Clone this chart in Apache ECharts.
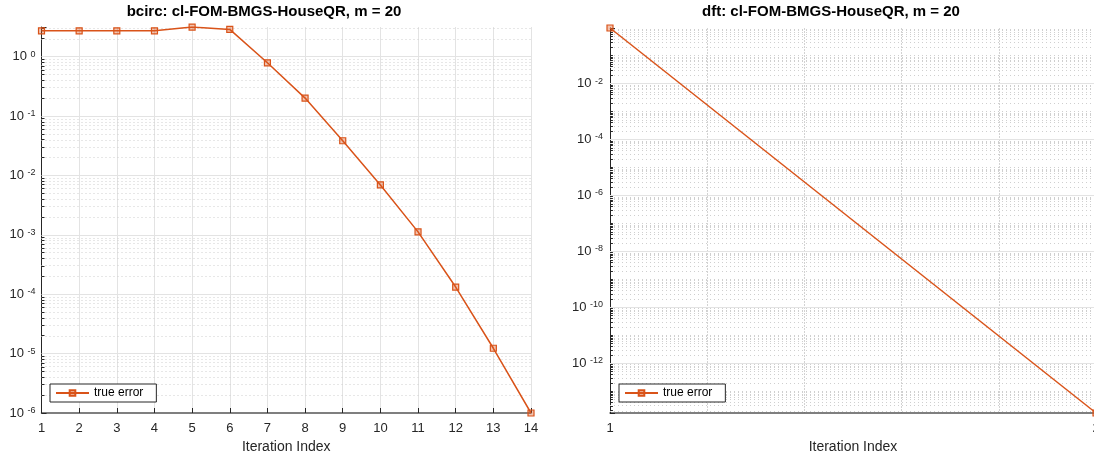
<!DOCTYPE html>
<html>
<head>
<meta charset="utf-8">
<script src="https://cdn.jsdelivr.net/npm/echarts@6/dist/echarts.min.js"></script>
<style>
  html, body { margin: 0; padding: 0; background: #fff; }
  #chart { width: 1094px; height: 456px; }
</style>
</head>
<body>
<div id="chart"></div>
<script>
// bcirc run: true error per iteration
const iterBcirc = [1, 2, 3, 4, 5, 6, 7, 8, 9, 10, 11, 12, 13, 14];
const errBcirc = [2.72, 2.72, 2.72, 2.72, 3.14, 2.87, 0.787, 0.2, 0.0383, 0.0069, 0.00112, 0.000132, 0.0000123, 0.000001];
// dft run: only two iterations
const iterDft = [1, 2];
const errDft = [0.97, 1.66e-14];

const titles = ['bcirc: cl-FOM-BMGS-HouseQR, m = 20', 'dft: cl-FOM-BMGS-HouseQR, m = 20'];
const legendText = 'true error';

const ORANGE = '#D95319';
const FONT = 'Liberation Sans, Arial, sans-serif';

// grid lines for a log10 axis: majors at labelled powers, minors at k*10^n
function gridLines(lo, hi, majorStep) {
  let major = [], minor = [];
  for (let n = Math.floor(lo); n <= Math.ceil(hi); n++) {
    if (n > lo && n <= hi) {
      if (n % majorStep === 0) major.push(n); else minor.push(n);
    }
    for (let k = 2; k <= 9; k++) {
      let v = n + Math.log10(k);
      if (v > lo && v < hi) minor.push(v);
    }
  }
  return { major, minor };
}

// grid lines + short minor ticks on the y axis (tickLen in x units)
function markLines(lo, hi, majorStep, x0, tickLen) {
  const g = gridLines(lo, hi, majorStep);
  const tick = { type: 'solid', color: '#262626', width: 1 };
  let data = g.major.map(v => ({ yAxis: v, lineStyle: { type: 'solid', color: '#e3e3e3', width: 1 } }))
    .concat(g.minor.map(v => ({ yAxis: v, lineStyle: { type: [1, 3], color: '#cfcfcf', width: 1 } })))
    .concat(g.minor.map(v => [{ coord: [x0, v], lineStyle: tick }, { coord: [x0 + tickLen, v] }]));
  return {
    silent: true,
    symbol: 'none',
    label: { show: false },
    animation: false,
    data: data
  };
}

function expLabel(v) {
  if (Math.abs(v - Math.round(v)) > 1e-9) return '';
  return '{b|10} {e|' + Math.round(v) + '}';
}

const yLo0 = -6, yHi0 = Math.log10(3.15);
const yLo1 = Math.log10(errDft[1]), yHi1 = Math.log10(errDft[0]);

const labelRich = {
  b: { fontSize: 13, color: '#262626', fontFamily: FONT },
  e: { fontSize: 9, padding: [0, 0, 5, 0], color: '#262626', fontFamily: FONT }
};

function yAxis(idx, lo, hi, split, margin) {
  return {
    type: 'value', gridIndex: idx, min: lo, max: hi, splitNumber: split,
    axisLine: { show: true, onZero: false, lineStyle: { color: '#262626', width: 1 } },
    axisTick: { show: true, inside: true, length: 5, lineStyle: { color: '#262626' } },
    splitLine: { show: false },
    axisLabel: { formatter: expLabel, rich: labelRich, color: '#262626', fontSize: 13, fontFamily: FONT, margin: margin }
  };
}

function xAxis(idx, lo, hi, minor) {
  return {
    type: 'value', gridIndex: idx, min: lo, max: hi, interval: 1,
    name: 'Iteration Index', nameLocation: 'middle', nameGap: 27,
    nameTextStyle: { fontSize: 14, color: '#262626', fontFamily: FONT },
    axisLine: { onZero: false, lineStyle: { color: '#555', width: 1.5 } },
    axisTick: { inside: true, length: 5, lineStyle: { color: '#262626' } },
    splitLine: { show: !minor, lineStyle: { color: '#e3e3e3', width: 1 } },
    minorTick: { show: false, splitNumber: 100 },
    minorSplitLine: { show: minor, lineStyle: { color: '#d3d3d3', type: [2, 1], width: 1 } },
    axisLabel: { color: '#262626', fontSize: 13, fontFamily: FONT, margin: 9 }
  };
}

function legend(left, name) {
  return {
    data: [name], left: left, top: 384, orient: 'vertical', z: 50,
    formatter: () => legendText,
    backgroundColor: '#fff', borderColor: '#262626', borderWidth: 1, borderRadius: 0,
    padding: [3, 13, 3, 5], itemWidth: 33, itemHeight: 7,
    textStyle: { fontSize: 12, color: '#000', fontFamily: FONT }
  };
}

function lineSeries(name, idx, xs, ys, lo, hi, majorStep, tickLen) {
  return {
    name: name, type: 'line', xAxisIndex: idx, yAxisIndex: idx,
    data: xs.map((x, i) => [x, Math.log10(ys[i])]),
    symbol: 'rect', symbolSize: 6,
    lineStyle: { color: ORANGE, width: 1.5 },
    itemStyle: { color: 'rgba(217,83,25,0.35)', borderColor: ORANGE, borderWidth: 1.2 },
    emphasis: { disabled: true },
    markLine: markLines(lo, hi, majorStep, xs[0], tickLen), z: 5
  };
}

let chart = echarts.init(document.getElementById('chart'));
let option = {
  animation: false,
  backgroundColor: '#fff',
  title: [
    { text: titles[0], left: 259, top: -1, textAlign: 'center',
      textStyle: { fontSize: 15, fontWeight: 'bold', color: '#000', fontFamily: FONT } },
    { text: titles[1], left: 826, top: -1, textAlign: 'center',
      textStyle: { fontSize: 15, fontWeight: 'bold', color: '#000', fontFamily: FONT } }
  ],
  legend: [legend(50, 'bcirc'), legend(619, 'dft')],
  grid: [
    { left: 41.5, right: 563, top: 27, bottom: 43, outerBoundsMode: 'none', containLabel: false },
    { left: 610, right: -2, top: 28, bottom: 43, outerBoundsMode: 'none', containLabel: false }
  ],
  xAxis: [xAxis(0, 1, 14, false), xAxis(1, 1, 2, true)],
  yAxis: [yAxis(0, yLo0, yHi0, 6, 6), yAxis(1, yLo1, yHi1, 7, 7)],
  series: [
    lineSeries('bcirc', 0, iterBcirc, errBcirc, yLo0, yHi0, 1, 0.08),
    lineSeries('dft', 1, iterDft, errDft, yLo1, yHi1, 2, 0.006)
  ]
};
chart.setOption(option);
</script>
</body>
</html>
